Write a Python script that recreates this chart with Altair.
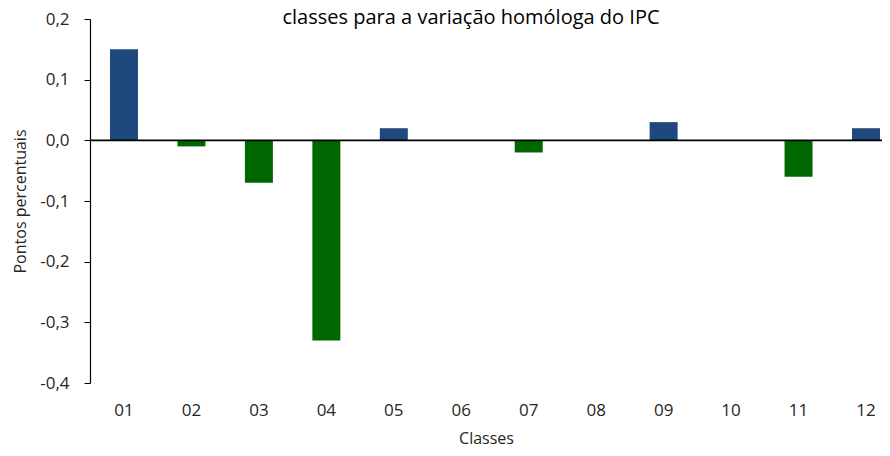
import altair as alt
import pandas as pd

classes = ["01", "02", "03", "04", "05", "06", "07", "08", "09", "10", "11", "12"]
values = [0.15, -0.01, -0.07, -0.33, 0.02, 0.0, -0.02, 0.0, 0.03, 0.0, -0.06, 0.02]
y_ticks = [-0.4, -0.3, -0.2, -0.1, 0.0, 0.1, 0.2]

df = pd.DataFrame({"classe": classes, "valor": values})
df["sinal"] = ["pos" if v >= 0 else "neg" for v in values]

FONT = "Open Sans"
TXT = "#262626"
label_expr = "replace(replace(format(datum.value, '.1f'), '.', ','), '\u2212', '-')"

x = alt.X(
    "classe:N",
    sort=classes,
    scale=alt.Scale(paddingInner=0.585, paddingOuter=0.163, align=0.909),
    axis=alt.Axis(
        title="Classes", labelAngle=0, domain=False, ticks=False, tickSize=0, grid=False,
        labelPadding=19, titlePadding=12, labelFontSize=17, titleFontSize=16,
        labelFont=FONT, titleFont=FONT, labelColor=TXT, titleColor=TXT,
        titleFontWeight="normal",
    ),
)

bars = alt.Chart(df).mark_bar().encode(
    x=x,
    y=alt.Y(
        "valor:Q",
        scale=alt.Scale(domain=[-0.4, 0.2], nice=False, zero=False),
        axis=alt.Axis(
            title="Pontos percentuais", values=y_ticks, labelExpr=label_expr,
            grid=False, domainColor="#000000", tickColor="#000000", tickSize=6,
            labelPadding=15, titlePadding=11, labelFontSize=17, titleFontSize=16,
            labelFont=FONT, titleFont=FONT, labelColor=TXT, titleColor=TXT,
            titleFontWeight="normal", domainWidth=1.2,
        ),
    ),
    y2=alt.datum(0),
    color=alt.Color(
        "sinal:N",
        scale=alt.Scale(domain=["pos", "neg"], range=["#1F497D", "#006600"]),
        legend=None,
    ),
)

zero = alt.Chart(pd.DataFrame({"z": [0.0]})).mark_rule(color="#000000", strokeWidth=1.8).encode(
    y="z:Q", x=alt.value(0), x2=alt.value(792)
)

chart = (
    alt.layer(bars, zero)
    .properties(
        width=792,
        height=364,
        autosize=alt.AutoSizeParams(type="none"),
        padding={"left": 82, "top": 11, "right": 0, "bottom": 65},
        view=alt.ViewBackground(stroke="transparent", strokeWidth=0),
        title=alt.TitleParams(
            text="classes para a variação homóloga do IPC",
            font=FONT, fontSize=20, fontWeight="normal", color="#000000",
            anchor="middle", baseline="alphabetic", offset=0, dy=34, dx=-15,
        ),
    )
    .configure_view(strokeWidth=0, strokeOpacity=0, stroke="transparent")
    .configure_axis(grid=False)
    .configure(background="#ffffff")
)

chart.save("out.html", embed_options={"renderer": "svg", "actions": False})
